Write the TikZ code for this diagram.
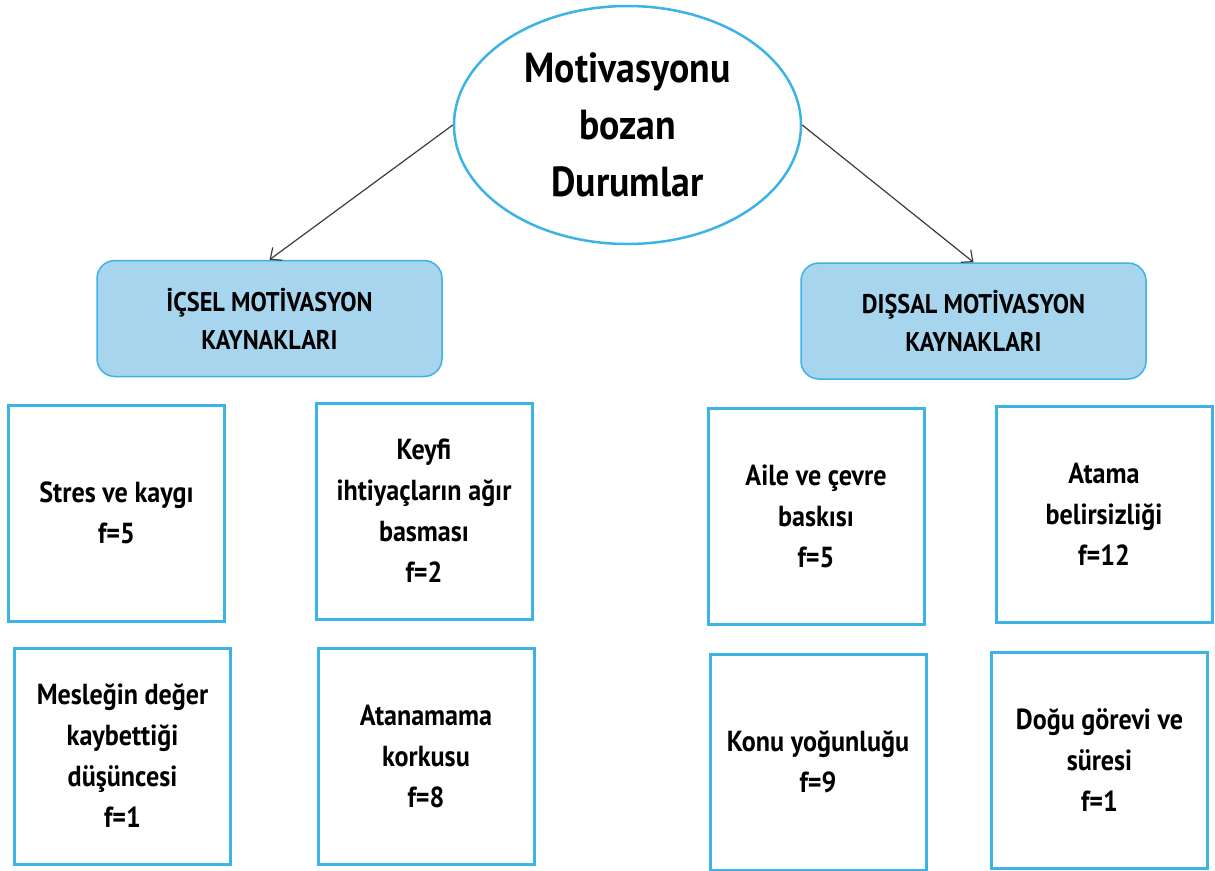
\documentclass[tikz,border=0pt]{standalone}
\usepackage{fontspec}
\setmainfont{PT Sans}[FakeStretch=0.9]
\usepackage{tikz}
\usetikzlibrary{shapes,arrows,arrows.meta,positioning,calc}
\definecolor{edgeblue}{RGB}{59,179,228}
\definecolor{catfill}{RGB}{168,213,238}
\definecolor{arrowgray}{RGB}{60,60,60}

\begin{document}
\begin{tikzpicture}[x=1pt,y=-1pt,oval/.style={draw=edgeblue,line width=2.5pt,ellipse,minimum width=347pt,minimum height=238pt,align=center,font=\bfseries\fontsize{42}{57}\selectfont},cat/.style={draw=edgeblue,line width=1.5pt,fill=catfill,rounded corners=18pt,minimum width=345pt,minimum height=116pt,align=center,font=\bfseries\fontsize{27}{38}\selectfont},item/.style={draw=edgeblue,line width=3pt,minimum width=216pt,minimum height=216pt,align=center,font=\bfseries\fontsize{29}{41}\selectfont},arr/.style={-{Straight Barb[length=9pt,width=16pt]},draw=arrowgray,line width=1.2pt}]
\useasboundingbox (0,0) rectangle (1215,870);
\node[oval](root) at (627.5,125){Motivasyonu\\bozan\\Durumlar};
\node[cat](icsel) at (269.5,318.5){İÇSEL MOTİVASYON\\KAYNAKLARI}; \node[cat](dissal) at (973.5,321){DIŞSAL MOTİVASYON\\KAYNAKLARI};
% icsel kaynaklar
\node[item](stres) at (116.5,513){Stres ve kaygı\\f=5}; \node[item](keyfi) at (424,511){Keyfi\\ihtiyaçların ağır\\basması\\f=2};
\node[item](meslek) at (122.5,756){Mesleğin değer\\kaybettiği\\düşüncesi\\f=1}; \node[item](atanama) at (426,756){Atanamama\\korkusu\\f=8};
% dissal kaynaklar
\node[item](aile) at (816,516.5){Aile ve çevre\\baskısı\\f=5}; \node[item](atama) at (1104,514){Atama\\belirsizliği\\f=12};
\node[item](konu) at (818,762){Konu yoğunluğu\\f=9}; \node[item](dogu) at (1099.5,760){Doğu görevi ve\\süresi\\f=1};
\draw[arr](root.west)--(icsel.north); \draw[arr](root.east)--(dissal.north);
\end{tikzpicture}
\end{document}
